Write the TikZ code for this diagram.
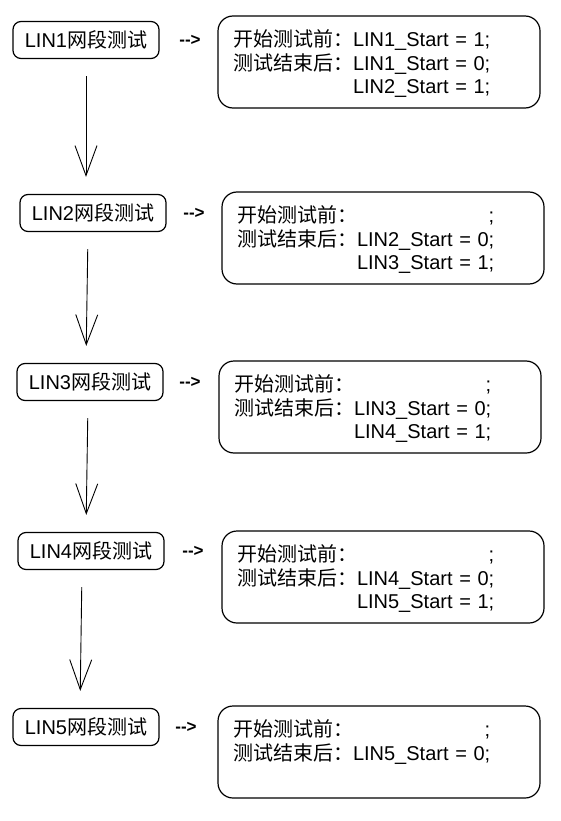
\documentclass[tikz,border=0pt]{standalone}
\usepackage{fontspec}
\setmainfont{Liberation Sans}
\newfontfamily\cjkfont{Noto Sans CJK SC}
\usepackage{tikz}
\usetikzlibrary{arrows.meta}
\tikzstyle{segbox} = [rectangle, draw, rounded corners=8pt, line width=1.2pt,
                     minimum width=146pt, minimum height=37pt, inner sep=0pt,
                     font=\fontsize{20}{23.5}\selectfont]
\tikzstyle{startbox} = [rectangle, draw, rounded corners=15pt, line width=1.2pt,
                     minimum width=322pt, minimum height=92pt,
                     text width=292pt, inner xsep=15pt, align=left,
                     font=\fontsize{20}{23.5}\selectfont]
\tikzstyle{dashtext} = [font=\fontsize{17}{17}\selectfont\bfseries]
\tikzstyle{flowarrow} = [-{Straight Barb[length=30pt,width=22pt]}, line width=0.9pt,
                     shorten <=17pt, shorten >=17pt]
\newcommand{\flags}[1]{\raisebox{-3pt}[\height][\depth]{\begin{tabular}{@{}r@{}l@{}}#1\end{tabular}}}
\begin{document}
\begin{tikzpicture}[x=1pt,y=-1pt]
\path[use as bounding box, fill=white] (0,0) rectangle (561,821);
% Segments
\node[segbox] at (86,40) (l1){LIN1{\cjkfont 网段测试}};
\node[segbox] at (93,213) (l2){LIN2{\cjkfont 网段测试}};
\node[segbox] at (90,382) (l3){LIN3{\cjkfont 网段测试}};
\node[segbox] at (91,551) (l4){LIN4{\cjkfont 网段测试}};
\node[segbox] at (86,727) (l5){LIN5{\cjkfont 网段测试}};

% Start flags
\node[startbox] at (379,62) (s1){\flags{
{\cjkfont 开始测试前：} & LIN1\_Start = 1;\\
{\cjkfont 测试结束后：} & LIN1\_Start = 0;\\
 & LIN2\_Start = 1;}};
\node[startbox] at (383,238) (s2){\flags{
{\cjkfont 开始测试前：} & \hfill;\\
{\cjkfont 测试结束后：} & LIN2\_Start = 0;\\
 & LIN3\_Start = 1;}};
\node[startbox] at (380,407) (s3){\flags{
{\cjkfont 开始测试前：} & \hfill;\\
{\cjkfont 测试结束后：} & LIN3\_Start = 0;\\
 & LIN4\_Start = 1;}};
\node[startbox] at (383,577) (s4){\flags{
{\cjkfont 开始测试前：} & \hfill;\\
{\cjkfont 测试结束后：} & LIN4\_Start = 0;\\
 & LIN5\_Start = 1;}};
\node[startbox] at (379,752) (s5){\flags{
{\cjkfont 开始测试前：} & \hfill;\\
{\cjkfont 测试结束后：} & LIN5\_Start = 0;\\
 & }};

% Dashed pointers
\node[dashtext] at (190,40) (d1){-{}->};
\node[dashtext] at (194,213) (d2){-{}->};
\node[dashtext] at (190,382) (d3){-{}->};
\node[dashtext] at (193,551) (d4){-{}->};
\node[dashtext] at (186,727) (d5){-{}->};

% Arrows
\draw[flowarrow] (l1.south) -- (l1.south |- l2.north);
\draw[flowarrow] ([xshift=-5pt]l2.south) -- ([xshift=-7pt]l2.south |- l3.north);
\draw[flowarrow] ([xshift=-2pt]l3.south) -- ([xshift=-4pt]l3.south |- l4.north);
\draw[flowarrow] ([xshift=-9pt]l4.south) -- ([xshift=-11pt]l4.south |- l5.north);
\end{tikzpicture}
\end{document}
